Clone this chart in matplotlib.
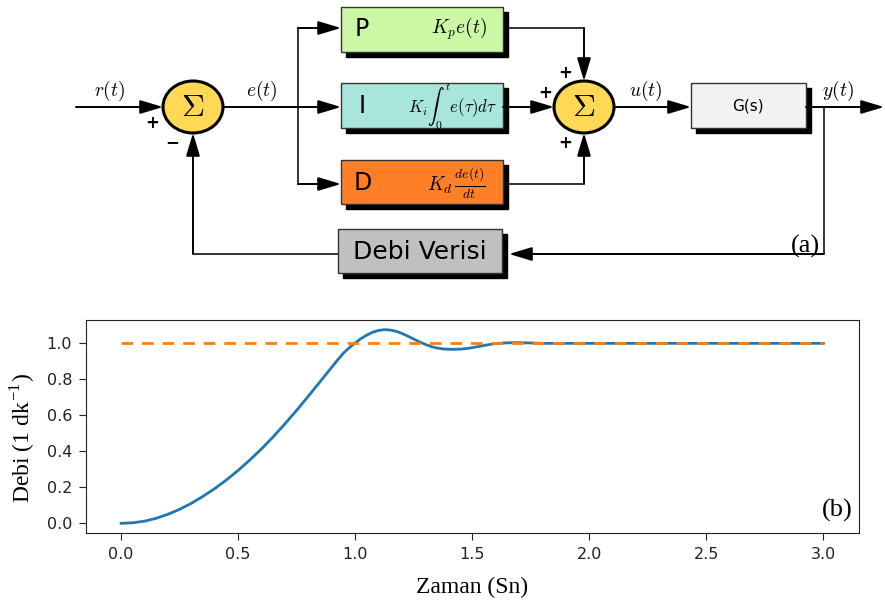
import matplotlib
matplotlib.use('Agg')
import matplotlib.pyplot as plt
from matplotlib.patches import Rectangle, Ellipse

plt.rcParams['mathtext.fontset'] = 'cm'

# step response (b)
zaman = [0.00, 0.05, 0.10, 0.15, 0.20, 0.25, 0.30, 0.35, 0.40, 0.45,
         0.50, 0.55, 0.60, 0.65, 0.70, 0.75, 0.80, 0.85, 0.90, 0.925,
         0.950, 0.975, 1.000, 1.025, 1.050, 1.075, 1.100, 1.125, 1.150, 1.175,
         1.200, 1.225, 1.250, 1.275, 1.300, 1.325, 1.350, 1.375, 1.400, 1.425,
         1.450, 1.475, 1.500, 1.525, 1.550, 1.575, 1.600, 1.650, 1.700, 1.750,
         1.800, 2.000, 2.500, 3.000]
debi = [0.000, 0.003, 0.012, 0.028, 0.050, 0.078, 0.111, 0.150, 0.193, 0.241,
        0.294, 0.352, 0.414, 0.481, 0.553, 0.628, 0.707, 0.787, 0.868, 0.908,
        0.946, 0.976, 1.003, 1.027, 1.046, 1.062, 1.072, 1.076, 1.074, 1.067,
        1.055, 1.040, 1.024, 1.008, 0.994, 0.982, 0.974, 0.969, 0.967, 0.967,
        0.968, 0.971, 0.976, 0.982, 0.988, 0.994, 0.999, 1.003, 1.004, 1.002,
        1.000, 1.000, 1.000, 1.000]
hedef_t = [0.0, 3.0]
hedef = [1.0, 1.0]
xticks = [0.0, 0.5, 1.0, 1.5, 2.0, 2.5, 3.0]
yticks = [0.0, 0.2, 0.4, 0.6, 0.8, 1.0]

fig = plt.figure(figsize=(8.85, 6.04), dpi=100)

# ---- (a) block diagram, drawn in pixel coordinates ----
d = fig.add_axes([0, 0, 1, 1])
d.set_xlim(0, 885)
d.set_ylim(604, 0)
d.axis('off')
d.patch.set_visible(False)

LC = '#333333'


def blok(x0, y0, x1, y1, renk):
    d.add_patch(Rectangle((x0 + 5, y0 + 5), x1 - x0, y1 - y0, color='black', zorder=2))
    d.add_patch(Rectangle((x0, y0), x1 - x0, y1 - y0, facecolor=renk,
                          edgecolor=LC, lw=1.0, zorder=3))


def toplam(cx, cy):
    d.add_patch(Ellipse((cx, cy), 60, 52, facecolor='#ffd955', edgecolor='black',
                        lw=2.2, zorder=3))
    d.text(cx, cy + 1, r'$\Sigma$', ha='center', va='center', fontsize=23, zorder=4)


def ok(xs, ys):
    if len(xs) > 2:
        d.plot(xs[:-1], ys[:-1], color=LC, lw=1.4, zorder=1, solid_capstyle='butt')
    d.annotate('', xy=(xs[-1], ys[-1]), xytext=(xs[-2], ys[-2]),
               arrowprops=dict(arrowstyle='-|>,head_length=1.0,head_width=0.3',
                               mutation_scale=14, color='black', lw=1.4,
                               shrinkA=0, shrinkB=0), zorder=5)


blok(341, 7, 503, 52, '#ccf8a6')
blok(341, 83, 503, 128, '#a8e6dc')
blok(341, 160, 503, 204, '#ff7f27')
blok(338, 229, 502, 273, '#c0c0c0')
blok(691, 83, 806, 128, '#f2f2f2')
toplam(193, 107)
toplam(584, 107)

d.text(362, 29, 'P', ha='center', va='center', fontsize=17, zorder=4)
d.text(362, 106, 'I', ha='center', va='center', fontsize=17, zorder=4)
d.text(363, 183, 'D', ha='center', va='center', fontsize=17, zorder=4)
d.text(459, 29, r'$K_p e(t)$', ha='center', va='center', fontsize=14, zorder=4)
d.text(453, 106, r'$K_i\int_0^t e(\tau)d\tau$', ha='center', va='center', fontsize=12, zorder=4)
d.text(456, 183, r'$K_d\,\frac{de(t)}{dt}$', ha='center', va='center', fontsize=14, zorder=4)
d.text(420, 252, 'Debi Verisi', ha='center', va='center', fontsize=18, zorder=4)
d.text(748, 106, 'G(s)', ha='center', va='center', fontsize=11, zorder=4)

for s, x, y in [(r'$r(t)$', 110, 91), (r'$e(t)$', 262, 91),
                (r'$u(t)$', 646, 91), (r'$y(t)$', 838, 91)]:
    d.text(x, y, s, ha='center', va='center', fontsize=14)

for s, x, y in [('+', 152, 123), ('\u2212', 172, 142),
                ('+', 565, 73), ('+', 545, 93), ('+', 565, 143)]:
    d.text(x, y, s, ha='center', va='center', fontsize=12, fontweight='bold')

ok([76, 163], [107, 107])
ok([223, 341], [107, 107])
d.plot([298, 298], [28, 184], color=LC, lw=1.4, zorder=1)
ok([298, 341], [28, 28])
ok([298, 341], [184, 184])
ok([503, 584, 584], [28, 28, 81])
ok([503, 554], [107, 107])
ok([503, 584, 584], [184, 184, 133])
ok([614, 691], [107, 107])
ok([806, 884], [107, 107])
ok([824, 824, 509], [107, 254, 254])
ok([338, 193, 193], [254, 254, 133])
d.text(805, 246, '(a)', ha='center', va='center', fontsize=19, family='Liberation Serif')

# ---- (b) response chart ----
ax = fig.add_axes([86 / 885, 1 - 533 / 604, (858.5 - 86) / 885, 213 / 604])
ax.plot(zaman, debi, color='#1f77b4', lw=2)
ax.plot(hedef_t, hedef, color='#ff7f0e', lw=2, linestyle=(0, (4.2, 3.2)))
ax.set_xticks(xticks)
ax.set_yticks(yticks)
ax.tick_params(labelsize=11.5, colors='#222222', length=5, pad=5)
for sp in ax.spines.values():
    sp.set_color('#222222')
ax.set_xlabel('Zaman (Sn)', family='Liberation Serif', fontsize=17, labelpad=11)
ax.set_ylabel(r'Debi (1 dk$^{\mathregular{-1}}$)', family='Liberation Serif', fontsize=17)
ax.yaxis.set_label_coords(-0.064, 0.446)
ax.text(0.993, 0.05, '(b)', transform=ax.transAxes, ha='right', va='bottom',
        fontsize=19, family='Liberation Serif')

fig.savefig('out.png', dpi=100)
